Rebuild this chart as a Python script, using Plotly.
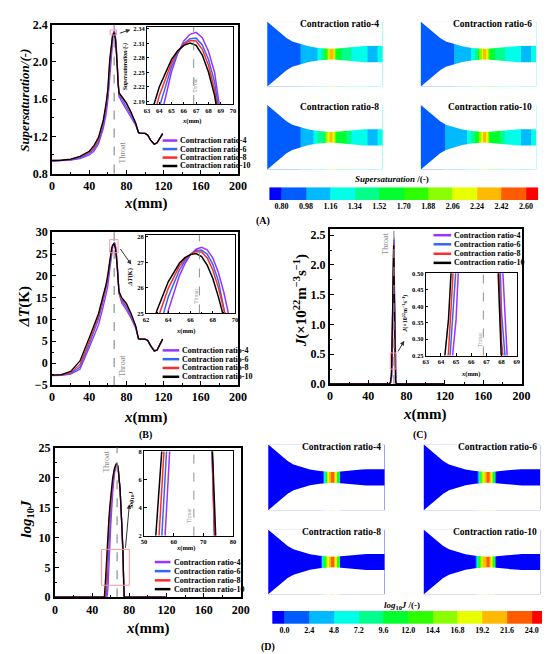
import numpy as np
import plotly.graph_objects as go

W, H = 550, 654
SERIF = "Liberation Serif"

ratio_names = ["Contraction ratio-4", "Contraction ratio-6",
               "Contraction ratio-8", "Contraction ratio-10"]
ratio_colors = ["#9933ff", "#3366ff", "#ff2b2b", "#000000"]
throat_x = 66.8

# (A) and (B): position along the nozzle axis, mm
x_pos = [0, 10, 20, 30, 40, 45, 50, 55, 58, 60,
         62, 63, 64, 65, 65.5, 66, 66.5, 67, 67.5, 68,
         68.5, 69, 70, 71, 72, 75, 80, 85, 90, 93,
         95, 100, 103, 106, 110, 113, 116, 119]

sup_cr4 = [0.935, 0.937, 0.945, 0.960, 1.000, 1.040, 1.120, 1.280, 1.430, 1.580,
           1.830, 1.992, 2.143, 2.252, 2.289, 2.315, 2.329, 2.333, 2.322, 2.294,
           2.250, 2.190, 2.020, 1.800, 1.630, 1.570, 1.490, 1.400, 1.320, 1.236,
           1.234, 1.232, 1.212, 1.160, 1.115, 1.130, 1.180, 1.230]
sup_cr6 = [0.937, 0.939, 0.948, 0.968, 1.015, 1.060, 1.145, 1.310, 1.480, 1.630,
           1.902, 2.058, 2.178, 2.262, 2.290, 2.310, 2.320, 2.321, 2.307, 2.277,
           2.230, 2.167, 1.990, 1.780, 1.650, 1.600, 1.520, 1.430, 1.330, 1.238,
           1.234, 1.232, 1.212, 1.160, 1.115, 1.130, 1.180, 1.230]
sup_cr8 = [0.940, 0.941, 0.952, 0.978, 1.030, 1.080, 1.170, 1.350, 1.520, 1.680,
           1.974, 2.103, 2.202, 2.270, 2.293, 2.308, 2.316, 2.315, 2.298, 2.265,
           2.215, 2.148, 1.975, 1.770, 1.660, 1.620, 1.550, 1.450, 1.340, 1.240,
           1.234, 1.232, 1.212, 1.160, 1.115, 1.130, 1.180, 1.230]
sup_cr10 = [0.940, 0.943, 0.955, 0.985, 1.040, 1.100, 1.190, 1.370, 1.550, 1.710,
            2.025, 2.136, 2.220, 2.277, 2.295, 2.306, 2.311, 2.306, 2.286, 2.251,
            2.202, 2.137, 1.964, 1.760, 1.670, 1.630, 1.560, 1.460, 1.340, 1.242,
            1.234, 1.232, 1.212, 1.160, 1.115, 1.130, 1.180, 1.230]

dT_cr4 = [-2.85, -2.80, -2.50, -1.40, 3.60, 6.30, 8.80, 12.90, 15.60, 17.60,
          21.30, 23.22, 25.11, 26.47, 26.95, 27.30, 27.51, 27.59, 27.49, 27.17,
          26.61, 25.82, 23.55, 20.00, 16.00, 13.80, 12.20, 10.30, 8.00, 5.50,
          5.50, 5.50, 5.20, 4.00, 2.80, 3.00, 4.30, 5.50]
dT_cr6 = [-2.80, -2.75, -2.40, -0.90, 4.30, 7.10, 10.10, 14.20, 16.70, 19.00,
          22.23, 24.13, 25.64, 26.70, 27.06, 27.31, 27.46, 27.48, 27.32, 26.92,
          26.28, 25.41, 23.03, 19.70, 16.10, 14.30, 12.80, 10.70, 8.20, 5.50,
          5.50, 5.50, 5.20, 4.00, 2.80, 3.00, 4.30, 5.50]
dT_cr8 = [-2.80, -2.72, -2.20, -0.30, 5.00, 7.80, 10.80, 14.90, 17.40, 19.60,
          23.09, 24.73, 25.98, 26.85, 27.13, 27.32, 27.42, 27.40, 27.17, 26.71,
          26.02, 25.11, 22.60, 19.40, 16.20, 14.70, 13.30, 11.10, 8.40, 5.55,
          5.50, 5.50, 5.20, 4.00, 2.80, 3.00, 4.30, 5.50]
dT_cr10 = [-2.75, -2.65, -1.90, 0.50, 5.80, 8.50, 11.40, 15.60, 18.00, 20.30,
           23.60, 25.14, 26.24, 26.96, 27.18, 27.30, 27.34, 27.22, 26.89, 26.38,
           25.66, 24.75, 22.32, 19.10, 16.40, 15.00, 13.70, 11.40, 8.50, 5.60,
           5.50, 5.50, 5.20, 4.00, 2.80, 3.00, 4.30, 5.50]

# (C): nucleation rate, 1e22 m^-3 s^-1
x_j = [0, 40, 60, 62, 63, 63.5, 64, 64.5, 65, 65.5, 66, 66.5, 66.75,
       67, 67.5, 68, 68.5, 69, 70, 72, 90, 119]
j_cr4 = [0, 0, 0, 0.001, 0.005, 0.02, 0.05, 0.12, 0.36, 0.85, 1.55, 2.25, 2.40,
         2.46, 1.45, 0.58, 0.13, 0.03, 0.003, 0, 0, 0]
j_cr6 = [0, 0, 0, 0.002, 0.01, 0.03, 0.07, 0.18, 0.52, 1.05, 1.72, 2.30, 2.42,
         2.25, 1.15, 0.38, 0.09, 0.02, 0.002, 0, 0, 0]
j_cr8 = [0, 0, 0, 0.003, 0.015, 0.045, 0.10, 0.26, 0.66, 1.20, 1.85, 2.36, 2.22,
         1.95, 0.98, 0.29, 0.07, 0.015, 0.002, 0, 0, 0]
j_cr10 = [0, 0, 0, 0.004, 0.02, 0.06, 0.13, 0.36, 0.78, 1.35, 1.95, 2.33, 2.10,
          1.75, 0.85, 0.22, 0.05, 0.01, 0.001, 0, 0, 0]

# (D): log10 J
x_logj = [0, 50, 53, 54, 55, 56, 57, 58, 59, 60, 62, 64, 66, 67, 68, 70,
          72, 73, 74, 74.5, 80, 119]
logj_cr4 = [0, 0, 0, 0, 0, 0, 1.6, 5.6, 9.4, 12.0, 17.3, 20.6, 22.2, 22.3, 21.6, 18.0,
            11.8, 7.4, 0.1, 0, 0, 0]
logj_cr6 = [0, 0, 0, 0, 0, 2.0, 6.0, 9.6, 12.5, 14.8, 18.6, 21.1, 22.2, 22.2, 21.5, 18.0,
            12.0, 7.6, 0.2, 0, 0, 0]
logj_cr8 = [0, 0, 0, 0, 1.8, 5.7, 9.0, 11.6, 13.9, 15.9, 19.2, 21.3, 22.2, 22.1, 21.4, 18.0,
            12.1, 7.8, 0.4, 0, 0, 0]
logj_cr10 = [0, 0, 0, 2.1, 5.3, 8.5, 11.1, 13.3, 15.3, 17.1, 19.9, 21.6, 22.3, 22.15, 21.4, 18.05,
             12.2, 8.4, 2.0, 0, 0, 0]

# nozzle wall (half height, mm)
nozzle_x = [0, 3, 6, 9, 13, 16, 20, 26, 33, 43, 53, 60, 66, 72, 78, 85, 91, 96, 101, 110, 120]
nozzle_r = [33.6, 31.0, 28.5, 25.3, 21.8, 19.2, 16.7, 13.2, 10.9, 8.1, 6.5, 5.8, 5.5, 5.8, 6.5,
            7.2, 7.8, 8.2, 8.4, 8.4, 8.4]

# contour legend levels
sup_levels = [0.80, 0.98, 1.16, 1.34, 1.52, 1.70, 1.88, 2.06, 2.24, 2.42, 2.60]
logj_levels = [0.0, 2.4, 4.8, 7.2, 9.6, 12.0, 14.4, 16.8, 19.2, 21.6, 24.0]
level_colors = ["#0000ff", "#005cff", "#00b9ff", "#00ffe8", "#00ff8b", "#00ff2e",
                "#2eff00", "#8bff00", "#e8ff00", "#ffb900", "#ff5c00", "#ff0000"]

sup_series = [sup_cr4, sup_cr6, sup_cr8, sup_cr10]
dT_series = [dT_cr4, dT_cr6, dT_cr8, dT_cr10]
j_series = [j_cr4, j_cr6, j_cr8, j_cr10]
logj_series = [logj_cr4, logj_cr6, logj_cr8, logj_cr10]

fig = go.Figure()
axes_cfg = {}
shapes = []
notes = []


def place(n, box, xr, yr, xkw=None, ykw=None):
    x0, y0, x1, y1 = box
    s = "" if n == 1 else str(n)
    xa = dict(domain=[x0 / W, x1 / W], range=xr, anchor="y" + s, fixedrange=True)
    ya = dict(domain=[1 - y1 / H, 1 - y0 / H], range=yr, anchor="x" + s, fixedrange=True)
    xa.update(xkw or dict(visible=False))
    ya.update(ykw or dict(visible=False))
    axes_cfg["xaxis" + s] = xa
    axes_cfg["yaxis" + s] = ya
    return "x" + s, "y" + s


def framed(size, lw, tl, dtick, tick0=0, minor=None, fmt=None):
    d = dict(showline=True, linecolor="black", linewidth=lw, mirror=True,
             ticks="inside", ticklen=tl, tickwidth=1, tickcolor="black",
             tick0=tick0, dtick=dtick, showgrid=False, zeroline=False,
             tickfont=dict(family=SERIF, size=size, color="black", weight="bold"))
    if minor:
        d["minor"] = dict(dtick=minor, tick0=tick0, ticks="inside",
                          ticklen=tl / 2, tickcolor="black", showgrid=False)
    if fmt:
        d["tickformat"] = fmt
    return d


def note(text, x, y, size, angle=0, color="black", xanchor="center", weight="bold"):
    notes.append(dict(text=text, x=x / W, y=1 - y / H, xref="paper", yref="paper",
                      showarrow=False, textangle=angle, xanchor=xanchor, yanchor="middle",
                      font=dict(family=SERIF, size=size, color=color, weight=weight)))


def arrow(hx, hy, tx, ty):
    notes.append(dict(text="", x=hx / W, y=1 - hy / H, xref="paper", yref="paper",
                      ax=tx - hx, ay=ty - hy, showarrow=True, arrowhead=2, arrowsize=0.9,
                      arrowwidth=1, arrowcolor="#333333"))


def curves(xs, series, xa, ya, width):
    for ys, col in zip(series, ratio_colors):
        fig.add_trace(go.Scatter(x=xs, y=ys, mode="lines", xaxis=xa, yaxis=ya,
                                 line=dict(color=col, width=width), hoverinfo="skip"))


def throat(xa, ya, width):
    shapes.append(dict(type="line", xref=xa, yref=ya + " domain", x0=throat_x, x1=throat_x,
                       y0=0, y1=1, line=dict(color="#8f8f8f", width=width, dash="dash")))


def zoom_box(xa, ya, x0, x1, y0, y1):
    shapes.append(dict(type="rect", xref=xa, yref=ya, x0=x0, x1=x1, y0=y0, y1=y1,
                       line=dict(color="#f29a9a", width=1)))


def legend(lx0, lx1, tx, rows):
    for name, col, y in zip(ratio_names, ratio_colors, rows):
        shapes.append(dict(type="line", xref="paper", yref="paper", x0=lx0 / W, x1=lx1 / W,
                           y0=1 - y / H, y1=1 - y / H, line=dict(color=col, width=2.5)))
        note(name, tx, y, 8, xanchor="left")


big_x = framed(12, 2, 4, 40, minor=20)

# ---------- (A) supersaturation ----------
xa, ya = place(1, (42, 10, 232, 162), [0, 200], [0.8, 2.4], big_x,
               framed(12, 2, 4, 0.4, tick0=0.8, minor=0.2, fmt=".1f"))
curves(x_pos, sup_series, xa, ya, 1.3)
throat(xa, ya, 1.2)
zoom_box(xa, ya, 62.5, 69.5, 2.29, 2.345)
xi, yi = place(2, (139, 12, 227, 91), [63, 70], [2.1846, 2.3446],
               framed(6.5, 1, 2.5, 1, tick0=63),
               framed(6.5, 1, 2.5, 0.03, tick0=2.19, fmt=".2f"))
curves(x_pos, sup_series, xi, yi, 1.5)
throat(xi, yi, 1)
arrow(122, 15, 110, 19)
legend(155, 170, 171, [128.3, 137, 145.7, 154.3])
note("<i>Supersaturation/(-)</i>", 13, 87, 13, angle=-90)
note("<i>x</i>(mm)", 137, 193, 15)
note("Throat", 114, 141, 8, angle=-90, color="#8a8a8a", weight="normal")
note("<i>Supersaturation/(-)</i>", 117, 52, 6, angle=-90)
note("<i>x</i>(mm)", 185, 108, 6.5)
note("Throat", 188.5, 72, 5.5, angle=-90, color="#8a8a8a", weight="normal")

# ---------- (B) subcooling ----------
xa, ya = place(3, (42, 222, 232, 378), [0, 200], [-5, 30], big_x,
               framed(12, 2, 4, 5, minor=2.5))
curves(x_pos, dT_series, xa, ya, 1.3)
throat(xa, ya, 1.2)
zoom_box(xa, ya, 62, 71, 25.3, 28.3)
xi, yi = place(4, (138, 225, 229, 305), [62, 70], [25, 28.06],
               framed(6.5, 1, 2.5, 2, tick0=62, minor=1),
               framed(6.5, 1, 2.5, 1, tick0=25))
curves(x_pos, dT_series, xi, yi, 1.5)
throat(xi, yi, 1)
arrow(123, 255, 111, 238)
legend(155, 172, 173, [342.7, 351.7, 360.7, 369.7])
note("<i>ΔT</i>(K)", 14, 298, 15, angle=-90)
note("<i>x</i>(mm)", 137, 411, 15)
note("Throat", 114, 359, 8, angle=-90, color="#8a8a8a", weight="normal")
note("<i>ΔT</i>(K)", 122, 268, 6.5, angle=-90)
note("<i>x</i>(mm)", 178, 323, 6.5)
note("Throat", 189, 287, 5.5, angle=-90, color="#8a8a8a", weight="normal")
note("(B)", 138, 429, 10)

# ---------- (C) nucleation rate ----------
xa, ya = place(5, (326, 219, 522, 377), [0, 200], [0, 2.6], big_x,
               framed(12, 2, 4, 0.5, minor=0.25, fmt=".1f"))
curves(x_j, j_series, xa, ya, 1.3)
throat(xa, ya, 1.2)
zoom_box(xa, ya, 63, 69, 0.25, 0.52)
xi, yi = place(6, (424, 264, 517, 348), [63, 69], [0.25, 0.5],
               framed(6.5, 1, 2.5, 1, tick0=63),
               framed(6.5, 1, 2.5, 0.05, tick0=0.25, fmt=".2f"))
curves(x_j, j_series, xi, yi, 1.5)
throat(xi, yi, 1)
arrow(402, 333, 395, 345)
legend(432, 450, 451, [225, 234.3, 244, 253.3])
note("<i>J</i>(×10<sup>22</sup>m<sup>−3</sup>s<sup>−1</sup>)", 296, 292, 15, angle=-90)
note("<i>x</i>(mm)", 423, 408, 15)
note("Throat", 383, 234, 8, angle=-90, color="#8a8a8a", weight="normal")
note("<i>J</i>(×10<sup>22</sup>m<sup>−3</sup>s<sup>−1</sup>)", 403, 305, 6, angle=-90)
note("<i>x</i>(mm)", 470, 367, 6.5)
note("Throat", 479, 332, 5.5, angle=-90, color="#8a8a8a", weight="normal")
note("(C)", 418, 429, 10)

# ---------- (D) log10 J ----------
xa, ya = place(7, (45, 442, 235, 595), [0, 200], [0, 25], big_x,
               framed(12, 2, 4, 5, minor=2.5))
curves(x_logj, logj_series, xa, ya, 1.3)
throat(xa, ya, 1.2)
zoom_box(xa, ya, 50, 80, 2, 8)
xi, yi = place(8, (136, 446, 227, 532), [50, 80], [2, 8],
               framed(6.5, 1, 2.5, 10, tick0=50),
               framed(6.5, 1, 2.5, 2, tick0=2))
curves(x_logj, logj_series, xi, yi, 1.5)
throat(xi, yi, 1)
arrow(121, 500, 117, 545)
legend(147, 163, 165, [559, 568.3, 577.7, 586.7])
note("<i>log</i><sub>10</sub><i>J</i>", 16, 515, 15, angle=-90)
note("<i>x</i>(mm)", 140, 627, 15)
note("Throat", 97.5, 456, 8, angle=-90, color="#8a8a8a", weight="normal")
note("<i>log</i><sub>10</sub><i>J</i>", 123, 495, 6.5, angle=-90)
note("<i>x</i>(mm)", 178, 545, 6.5)
note("Throat", 182, 512, 5.5, angle=-90, color="#8a8a8a", weight="normal")

# ---------- contour plots ----------
n_col = len(level_colors)
level_scale = []
for i, c in enumerate(level_colors):
    level_scale += [[i / n_col, c], [(i + 1) / n_col, c]]


def nozzle(n, box, xs, values, levels):
    xa, ya = place(n, box, [0, 120], [-33.6, 33.6])
    idx = np.digitize(values, levels, right=True)
    fig.add_trace(go.Heatmap(x=xs, y=[-33.6, 33.6], z=[idx.tolist()], colorscale=level_scale,
                             zmin=-0.5, zmax=n_col - 0.5, showscale=False, hoverinfo="skip",
                             xaxis=xa, yaxis=ya))
    for sign in (1, -1):
        fig.add_trace(go.Scatter(x=nozzle_x + [nozzle_x[-1], nozzle_x[0]],
                                 y=[sign * r for r in nozzle_r] + [sign * 60, sign * 60],
                                 fill="toself", fillcolor="white", mode="lines",
                                 line=dict(width=0, color="white"), hoverinfo="skip",
                                 xaxis=xa, yaxis=ya))


def level_bar(n, box, levels, fmt):
    step = levels[1] - levels[0]
    edges = [levels[0] - step / 2] + levels + [levels[-1] + step / 2]
    xa, ya = place(n, box, [edges[0], edges[-1]], [0, 1],
                   dict(showline=False, ticks="", showgrid=False, zeroline=False,
                        tickvals=levels, ticktext=[fmt.format(v) for v in levels],
                        tickfont=dict(family=SERIF, size=8, color="black", weight="bold")))
    fig.add_trace(go.Heatmap(x=edges, y=[0, 1], z=[list(range(n_col))], colorscale=level_scale,
                             zmin=-0.5, zmax=n_col - 0.5, showscale=False, hoverinfo="skip",
                             xaxis=xa, yaxis=ya))


sup_boxes = [(262, 7, 380, 73), (419, 7, 537, 73), (262, 92, 380, 158), (419, 92, 537, 158)]
sup_titles = [(378, 9), (535, 9), (378, 94), (535, 94)]
for k in range(4):
    nozzle(9 + k, sup_boxes[k], x_pos, sup_series[k], sup_levels)
    note(ratio_names[k], sup_titles[k][0], sup_titles[k][1], 9.5, xanchor="right")
level_bar(13, (264, 176, 539, 189), sup_levels, "{:.2f}")
note("<i>Supersaturation</i> /(-)", 390, 168, 9)
note("(A)", 258, 211, 10)

logj_boxes = [(263, 439, 382, 506), (422, 439, 541, 506), (263, 526, 382, 592), (422, 526, 541, 592)]
logj_titles = [(380, 441), (540, 441), (380, 528), (540, 528)]
for k in range(4):
    nozzle(14 + k, logj_boxes[k], x_logj, logj_series[k], logj_levels)
    note(ratio_names[k], logj_titles[k][0], logj_titles[k][1], 9.5, xanchor="right")
level_bar(18, (267, 609, 545, 622), logj_levels, "{:.1f}")
note("<i>log</i><sub>10</sub><i>J</i> /(-)", 400, 603, 9)
note("(D)", 263, 646, 10)

fig.update_layout(axes_cfg)
fig.update_layout(width=W, height=H, margin=dict(l=0, r=0, t=0, b=0),
                  showlegend=False, plot_bgcolor="white", paper_bgcolor="white",
                  shapes=shapes, annotations=notes)
fig.write_html("out.html")
